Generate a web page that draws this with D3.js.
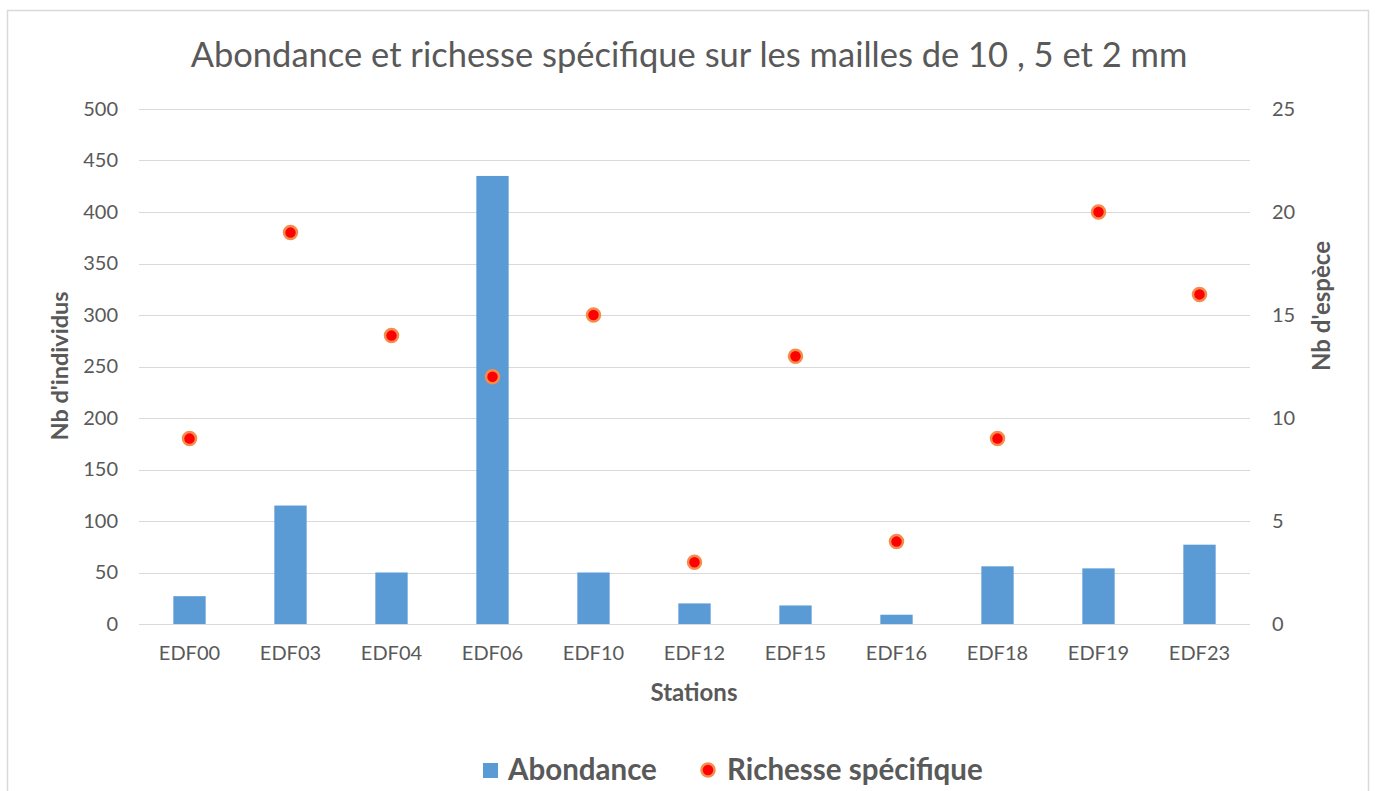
<!DOCTYPE html>
<html>
<head>
<meta charset="utf-8">
<script src="https://cdn.jsdelivr.net/npm/d3@7"></script>
<style>
  body { margin: 0; background: #fff; }
  svg text { font-family: Lato, "Noto Sans", sans-serif; }
</style>
</head>
<body>
<div id="chart"></div>
<script>
// --- Data ---
const stations = ["EDF00", "EDF03", "EDF04", "EDF06", "EDF10", "EDF12", "EDF15", "EDF16", "EDF18", "EDF19", "EDF23"];
const abondance = [27, 115, 50, 435, 50, 20, 18, 9, 56, 54, 77];
const richesse = [9, 19, 14, 12, 15, 3, 13, 4, 9, 20, 16];
const leftTicks = [0, 50, 100, 150, 200, 250, 300, 350, 400, 450, 500];
const rightTicks = [0, 5, 10, 15, 20, 25];

// --- Dimensions ---
const W = 1375, H = 791;
const margin = { top: 109, right: 125, bottom: 167, left: 139 };
const width = W - margin.left - margin.right;
const height = H - margin.top - margin.bottom;

const svg = d3.select("#chart").append("svg")
    .attr("width", W)
    .attr("height", H);

// outer frame
svg.append("rect")
    .attr("x", 7.5).attr("y", 10.5)
    .attr("width", 1361).attr("height", 800)
    .attr("fill", "#fff")
    .attr("stroke", "#d9d9d9")
    .attr("stroke-width", 1.5);

const g = svg.append("g").attr("transform", `translate(${margin.left},${margin.top})`);

// --- Scales ---
const x = d3.scaleBand().domain(stations).range([0, width]).paddingInner(0.68).paddingOuter(0.34);
const yL = d3.scaleLinear().domain([0, 500]).range([height, 0]);
const yR = d3.scaleLinear().domain([0, 25]).range([height, 0]);

// gridlines
g.append("g")
    .selectAll("line")
    .data(leftTicks)
    .join("line")
    .attr("x1", 0).attr("x2", width)
    .attr("y1", d => Math.round(yL(d)) + 0.5)
    .attr("y2", d => Math.round(yL(d)) + 0.5)
    .attr("stroke", "#d9d9d9")
    .attr("stroke-width", 1.2);

// left axis
const leftAxis = g.append("g")
    .call(d3.axisLeft(yL).tickValues(leftTicks).tickSize(0).tickPadding(21));
leftAxis.select(".domain").remove();
leftAxis.selectAll("text").attr("fill", "#595959").attr("font-size", 20);

// right axis
const rightAxis = g.append("g")
    .attr("transform", `translate(${width},0)`)
    .call(d3.axisRight(yR).tickValues(rightTicks).tickSize(0).tickPadding(22));
rightAxis.select(".domain").remove();
rightAxis.selectAll("text").attr("fill", "#595959").attr("font-size", 20);

// bottom axis
const bottomAxis = g.append("g")
    .attr("transform", `translate(0,${height})`)
    .call(d3.axisBottom(x).tickSize(0).tickPadding(22));
bottomAxis.select(".domain").remove();
bottomAxis.selectAll("text").attr("fill", "#595959").attr("font-size", 20);

// bars
g.append("g")
    .selectAll("rect")
    .data(stations)
    .join("rect")
    .attr("x", d => x(d))
    .attr("width", x.bandwidth())
    .attr("y", (d, i) => yL(abondance[i]))
    .attr("height", (d, i) => height - yL(abondance[i]))
    .attr("fill", "#5b9bd5");

// points
g.append("g")
    .selectAll("circle")
    .data(stations)
    .join("circle")
    .attr("cx", d => x(d) + x.bandwidth() / 2)
    .attr("cy", (d, i) => yR(richesse[i]))
    .attr("r", 6.5)
    .attr("fill", "#ff0000")
    .attr("stroke", "#f58c4c")
    .attr("stroke-width", 2.5);

// title
svg.append("text")
    .attr("x", 689).attr("y", 67)
    .attr("text-anchor", "middle")
    .attr("font-size", 34.5)
    .attr("fill", "#595959")
    .text("Abondance et richesse spécifique sur les mailles de 10 , 5 et 2 mm");

// axis titles
svg.append("text")
    .attr("transform", "translate(68,366) rotate(-90)")
    .attr("text-anchor", "middle")
    .attr("font-size", 23.5)
    .attr("font-weight", "bold")
    .attr("fill", "#595959")
    .text("Nb d'individus");

svg.append("text")
    .attr("transform", "translate(1330,306) rotate(-90)")
    .attr("text-anchor", "middle")
    .attr("font-size", 24)
    .attr("font-weight", "bold")
    .attr("fill", "#595959")
    .text("Nb d'espèce");

svg.append("text")
    .attr("x", 694).attr("y", 701)
    .attr("text-anchor", "middle")
    .attr("font-size", 24)
    .attr("font-weight", "bold")
    .attr("fill", "#595959")
    .text("Stations");

// legend
const legend = svg.append("g");
legend.append("rect")
    .attr("x", 483).attr("y", 763).attr("width", 15).attr("height", 15)
    .attr("fill", "#5b9bd5");
legend.append("text")
    .attr("x", 508).attr("y", 780)
    .attr("font-size", 29.5).attr("font-weight", "bold").attr("fill", "#595959")
    .text("Abondance");
legend.append("circle")
    .attr("cx", 708).attr("cy", 770).attr("r", 6.5)
    .attr("fill", "#ff0000").attr("stroke", "#f58c4c").attr("stroke-width", 2.5);
legend.append("text")
    .attr("x", 727).attr("y", 780)
    .attr("font-size", 29.5).attr("font-weight", "bold").attr("fill", "#595959")
    .text("Richesse spécifique");
</script>
</body>
</html>
